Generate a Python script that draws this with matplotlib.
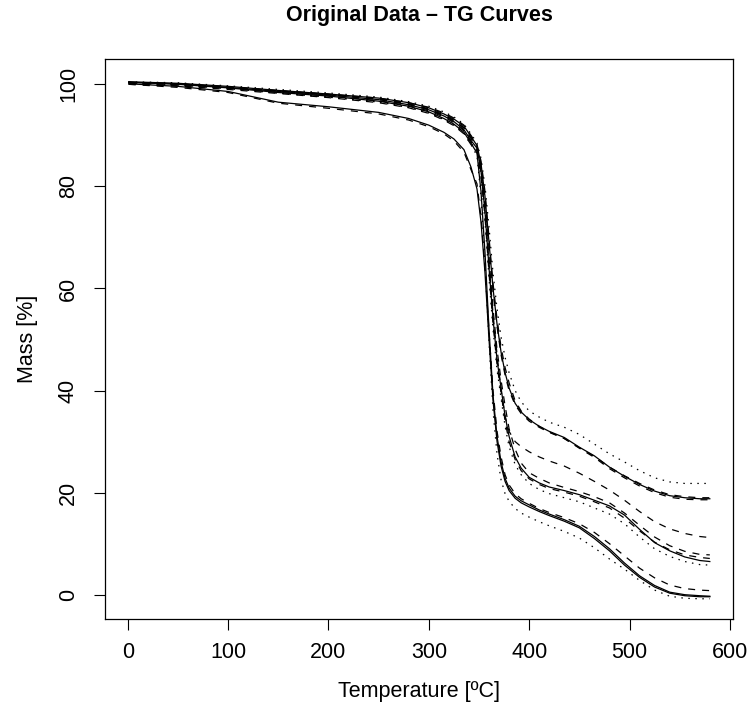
import matplotlib
matplotlib.use("Agg")
import matplotlib.pyplot as plt

plt.rcParams['font.family'] = ['Liberation Sans', 'DejaVu Sans']

# Temperature grid [ºC]
temperature = [1, 50, 100, 150, 200, 250, 280, 300, 315, 325, 335, 342, 348, 352, 356, 360,
               364, 368, 372, 376, 380, 386, 392, 400, 410, 420, 435, 450, 465, 480, 495,
               510, 525, 540, 555, 570, 580]

# Mass [%] of each TG curve
low_solid_1 = [100.1, 99.6, 98.6, 96.5, 95.6, 94.5, 93.3, 92.0, 90.6, 89.3, 87.2, 83.8, 79.5, 73.0,
               63.0, 50.0, 38.0, 30.0, 25.2, 22.2, 20.4, 18.9, 18.0, 17.2, 16.3, 15.5, 14.4, 13.1,
               11.0, 8.6, 5.8, 3.4, 1.5, 0.3, -0.2, -0.4, -0.4]
low_solid_2 = [100.4, 100.0, 99.3, 98.4, 97.7, 96.7, 95.7, 94.6, 93.3, 92.2, 90.6, 88.5, 86.5, 79.0,
               67.0, 52.0, 39.0, 31.0, 26.0, 22.8, 20.9, 19.3, 18.4, 17.6, 16.6, 15.8, 14.7, 13.4,
               11.4, 9.0, 6.2, 3.7, 1.8, 0.5, 0.0, -0.2, -0.3]
low_dashed = [100.0, 99.4, 98.4, 96.3, 95.3, 94.2, 93.0, 91.7, 90.3, 88.9, 86.7, 83.3, 80.5, 74.0,
              64.0, 51.5, 40.0, 32.0, 27.0, 23.5, 21.5, 19.8, 18.8, 17.9, 16.9, 16.1, 15.1, 13.9,
              12.2, 10.0, 7.6, 5.2, 3.3, 1.9, 1.2, 0.9, 0.8]
low_dotted = [100.3, 99.9, 99.2, 98.3, 97.5, 96.5, 95.5, 94.4, 93.1, 92.0, 90.4, 88.2, 86.0, 78.0,
              65.0, 49.5, 36.0, 27.5, 22.5, 19.8, 18.3, 16.9, 16.0, 15.2, 14.3, 13.5, 12.4, 11.1,
              9.2, 7.0, 5.0, 2.8, 0.9, -0.3, -0.7, -0.8, -0.8]
mid_solid = [100.4, 100.1, 99.4, 98.6, 97.9, 97.0, 96.0, 95.0, 93.8, 92.7, 91.1, 89.0, 87.5, 83.0,
             75.0, 64.0, 54.0, 46.0, 40.5, 35.0, 31.0, 27.0, 24.8, 23.0, 21.9, 21.1, 20.4, 19.6,
             18.5, 17.4, 15.6, 12.8, 10.2, 8.6, 7.4, 6.7, 6.5]
mid_dashed_1 = [100.2, 100.0, 99.4, 98.7, 98.0, 97.2, 96.2, 95.2, 94.0, 93.0, 91.5, 89.5, 87.8, 83.5,
                76.0, 66.0, 56.0, 48.0, 42.0, 37.0, 32.5, 28.5, 25.8, 23.9, 22.8, 21.9, 21.0, 20.2,
                19.2, 18.0, 16.0, 13.6, 11.3, 9.6, 8.5, 7.9, 7.8]
mid_dashed_2 = [100.1, 99.8, 99.2, 98.4, 97.7, 96.8, 95.8, 94.8, 93.6, 92.5, 90.9, 88.8, 87.0, 82.0,
                74.0, 63.0, 53.0, 45.0, 39.5, 34.0, 30.0, 26.5, 24.3, 22.7, 21.6, 20.8, 20.1, 19.3,
                18.2, 17.0, 15.0, 12.5, 10.3, 8.8, 7.8, 7.3, 7.1]
mid_dotted = [100.3, 99.9, 99.2, 98.3, 97.5, 96.6, 95.5, 94.5, 93.2, 92.1, 90.5, 88.5, 87.0, 82.0,
              73.0, 62.0, 52.0, 44.0, 38.5, 33.0, 29.0, 25.5, 23.5, 21.8, 20.6, 19.8, 19.0, 18.2,
              17.0, 15.8, 13.9, 11.3, 9.0, 7.5, 6.5, 5.9, 5.8]
mid_dashed_3 = [100.0, 99.7, 99.0, 98.2, 97.4, 96.4, 95.4, 94.3, 93.0, 91.9, 90.3, 88.2, 87.0, 83.0,
                75.0, 65.0, 55.0, 47.0, 40.0, 35.0, 32.0, 30.0, 29.0, 28.0, 27.0, 26.2, 25.2, 23.8,
                22.2, 20.5, 18.5, 16.3, 14.3, 12.9, 12.0, 11.4, 11.2]
high_solid = [100.5, 100.2, 99.6, 98.8, 98.1, 97.3, 96.4, 95.4, 94.2, 93.2, 91.8, 89.8, 88.0, 84.5,
              78.0, 69.0, 60.0, 53.0, 47.5, 43.5, 40.5, 37.5, 35.8, 34.3, 33.0, 32.0, 30.8, 28.9,
              27.2, 25.0, 23.2, 21.6, 20.3, 19.4, 19.0, 18.8, 18.8]
high_dashed_1 = [100.3, 100.1, 99.5, 98.8, 98.1, 97.3, 96.4, 95.5, 94.4, 93.4, 92.0, 90.0, 88.2, 85.0,
                 79.0, 70.0, 61.0, 54.0, 48.5, 44.5, 41.5, 38.0, 36.0, 34.4, 33.0, 31.9, 30.6, 28.7,
                 26.9, 24.7, 22.9, 21.3, 20.0, 19.1, 18.7, 18.6, 18.6]
high_dashed_2 = [100.4, 100.1, 99.5, 98.7, 98.0, 97.1, 96.1, 95.1, 93.9, 92.9, 91.4, 89.4, 87.8, 84.0,
                 77.0, 68.0, 59.5, 52.5, 47.0, 43.0, 40.0, 37.2, 35.5, 34.0, 32.8, 31.8, 30.6, 28.8,
                 27.1, 25.0, 23.3, 21.8, 20.5, 19.6, 19.2, 19.0, 19.0]
high_dotted = [100.5, 100.3, 99.7, 99.0, 98.3, 97.5, 96.6, 95.7, 94.6, 93.6, 92.2, 90.3, 88.5, 85.5,
               80.0, 72.0, 63.0, 56.0, 50.5, 46.5, 43.5, 40.0, 37.8, 36.0, 34.8, 33.8, 32.8, 31.4,
               29.5, 27.6, 26.0, 24.3, 22.9, 22.1, 21.8, 21.8, 21.8]

curves = [
    (low_solid_1, 'solid'), (low_solid_2, 'solid'), (low_dashed, 'dashed'), (low_dotted, 'dotted'),
    (mid_solid, 'solid'), (mid_dashed_1, 'dashed'), (mid_dashed_2, 'dashed'), (mid_dotted, 'dotted'),
    (mid_dashed_3, 'dashed'),
    (high_solid, 'solid'), (high_dashed_1, 'dashed'), (high_dashed_2, 'dashed'), (high_dotted, 'dotted'),
]

x_ticks = [0, 100, 200, 300, 400, 500, 600]
y_ticks = [0, 20, 40, 60, 80, 100]

fig = plt.figure(figsize=(7.51, 7.14), dpi=100)
ax = fig.add_axes([105.3 / 751, 1 - 619.3 / 714, (733.3 - 105.3) / 751, (619.3 - 59) / 714])

lw = 0.9
for values, style in curves:
    line, = ax.plot(temperature, values, color='black', linewidth=lw, solid_joinstyle='round')
    if style == 'dashed':
        line.set_dashes((5.6, 5.6))
    elif style == 'dotted':
        line.set_dashes((1.2, 4.4))

ax.set_xlim(-22.35, 603.4)
ax.set_ylim(-4.82, 104.96)
ax.set_xticks(x_ticks)
ax.set_yticks(y_ticks)
ax.set_xticklabels([str(v) for v in x_ticks])
ax.set_yticklabels([str(v) for v in y_ticks], rotation=90, va='center')
ax.tick_params(axis='both', direction='out', length=8, width=0.8, labelsize=15.5, color='black')
ax.tick_params(axis='x', pad=8)
ax.tick_params(axis='y', pad=11)
for s in ax.spines.values():
    s.set_linewidth(0.9)
    s.set_color('black')

fig.text(419.3 / 751, 1 - 20.7 / 714, 'Original Data – TG Curves', ha='center', va='baseline',
         fontsize=15.5, fontweight='bold')
fig.text(419.3 / 751, 1 - 691 / 714, 'Temperature [ºC]', ha='center', va='center', fontsize=15.5)
fig.text(27 / 751, 1 - 339 / 714, 'Mass [%]', ha='center', va='center', rotation=90, fontsize=15.5)

fig.savefig('out.png', dpi=100)
